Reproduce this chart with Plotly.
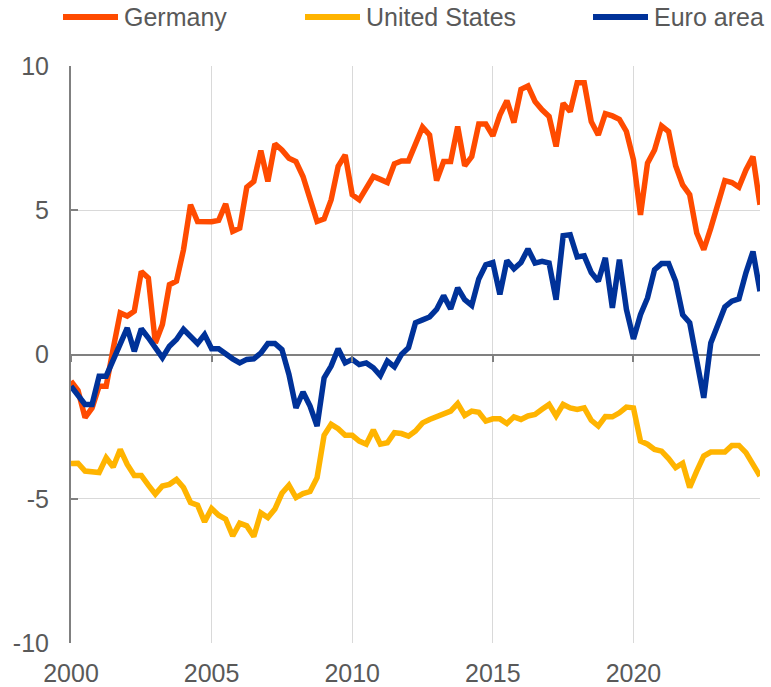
import plotly.graph_objects as go

# quarterly, 2000Q1 - 2024Q3
quarters = [2000 + i / 4 for i in range(99)]

germany = [
    -0.92, -1.25, -2.19, -1.85, -1.10, -1.10, 0.20, 1.44, 1.33, 1.50,
    2.88, 2.65, 0.40, 1.04, 2.42, 2.54, 3.63, 5.19, 4.61, 4.61,
    4.60, 4.65, 5.22, 4.27, 4.38, 5.80, 6.00, 7.07, 6.00, 7.30,
    7.09, 6.80, 6.69, 6.17, 5.36, 4.61, 4.70, 5.36, 6.52, 6.92,
    5.54, 5.36, 5.77, 6.17, 6.07, 5.96, 6.61, 6.71, 6.71, 7.27,
    7.88, 7.61, 6.03, 6.69, 6.69, 7.90, 6.54, 6.86, 7.99, 7.99,
    7.58, 8.30, 8.80, 8.04, 9.19, 9.31, 8.77, 8.48, 8.25, 7.21,
    8.71, 8.42, 9.42, 9.42, 8.07, 7.61, 8.35, 8.27, 8.15, 7.73,
    6.75, 4.84, 6.63, 7.09, 7.92, 7.73, 6.54, 5.88, 5.54, 4.21,
    3.63, 4.38, 5.19, 6.03, 5.96, 5.80, 6.40, 6.86, 5.19,
]

united_states = [
    -3.78, -3.77, -4.04, -4.07, -4.09, -3.58, -3.90, -3.29, -3.81, -4.19,
    -4.19, -4.53, -4.84, -4.56, -4.50, -4.33, -4.61, -5.13, -5.22, -5.80,
    -5.34, -5.57, -5.71, -6.29, -5.85, -5.94, -6.31, -5.49, -5.65, -5.36,
    -4.81, -4.53, -4.96, -4.82, -4.75, -4.27, -2.80, -2.42, -2.57, -2.80,
    -2.80, -3.00, -3.11, -2.62, -3.11, -3.06, -2.71, -2.74, -2.83, -2.65,
    -2.37, -2.25, -2.15, -2.08, -1.96, -1.70, -2.11, -1.96, -2.00, -2.31,
    -2.23, -2.23, -2.39, -2.16, -2.25, -2.13, -2.08, -1.90, -1.73, -2.13,
    -1.73, -1.85, -1.90, -1.85, -2.28, -2.48, -2.15, -2.16, -2.02, -1.82,
    -1.85, -3.00, -3.11, -3.29, -3.35, -3.61, -3.92, -3.77, -4.61, -4.04,
    -3.52, -3.38, -3.38, -3.38, -3.15, -3.15, -3.40, -3.81, -4.21,
]

euro_area = [
    -1.10, -1.44, -1.73, -1.73, -0.75, -0.75, -0.17, 0.29, 0.92, 0.11,
    0.89, 0.58, 0.23, -0.11, 0.29, 0.52, 0.87, 0.61, 0.38, 0.69,
    0.20, 0.20, 0.00, -0.15, -0.29, -0.17, -0.15, 0.05, 0.38, 0.38,
    0.17, -0.69, -1.85, -1.30, -1.79, -2.48, -0.81, -0.40, 0.20, -0.29,
    -0.17, -0.35, -0.29, -0.46, -0.73, -0.23, -0.43, 0.00, 0.23, 1.10,
    1.20, 1.30, 1.56, 2.04, 1.58, 2.31, 1.90, 1.70, 2.62, 3.11,
    3.19, 2.08, 3.26, 2.97, 3.19, 3.66, 3.17, 3.23, 3.17, 1.90,
    4.12, 4.15, 3.38, 3.42, 2.84, 2.54, 3.35, 1.62, 3.29, 1.56,
    0.54, 1.38, 1.96, 2.94, 3.15, 3.15, 2.54, 1.38, 1.10, -0.17,
    -1.50, 0.40, 0.98, 1.65, 1.85, 1.93, 2.83, 3.57, 2.19,
]

names = ['Germany', 'United States', 'Euro area']
colors = ['#FF4B00', '#FFB400', '#003299']
series = [germany, united_states, euro_area]

year_ticks = [2000, 2005, 2010, 2015, 2020]
y_ticks = [-10, -5, 0, 5, 10]
y_ticktext = ['-10', '-5', '0', '5', '10']

# body margin is removed in the page (post_script below), so the figure fills the window
W, H = 771, 687
L, R, T, B = 71, 11, 66, 44
FONT = 'Liberation Sans, Arial, sans-serif'
GREY_TEXT = '#595959'

fig = go.Figure()
for name, color, values in zip(names, colors, series):
    fig.add_trace(go.Scatter(x=quarters, y=values, name=name, mode='lines',
                             line=dict(color=color, width=5.5)))

# empty trace so the tick marks sitting on the zero line get drawn
fig.add_trace(go.Scatter(x=[quarters[0], quarters[-1]], y=[None, None], xaxis='x2',
                         mode='lines', showlegend=False, hoverinfo='skip'))

fig.update_layout(
    width=W, height=H,
    margin=dict(l=L, r=R, t=T, b=B),
    plot_bgcolor='white', paper_bgcolor='white',
    showlegend=False,
    font=dict(family=FONT, size=25, color=GREY_TEXT),
    xaxis=dict(range=[2000, quarters[-1]],
               tickvals=year_ticks + [quarters[-1]],
               ticktext=[str(y) for y in year_ticks] + [''],
               showgrid=True, gridcolor='#d9d9d9', gridwidth=1,
               zeroline=False, showline=False, ticks='',
               ticklabelstandoff=13, automargin=False),
    xaxis2=dict(range=[2000, quarters[-1]], overlaying='x', anchor='free',
                position=0.5, tickvals=year_ticks, showticklabels=False,
                ticks='outside', ticklen=6, tickwidth=2, tickcolor='#808080',
                showgrid=False, zeroline=False, showline=False, automargin=False),
    yaxis=dict(range=[-10, 10], tickvals=y_ticks, ticktext=y_ticktext,
               showgrid=True, gridcolor='#d9d9d9', gridwidth=1,
               zeroline=True, zerolinecolor='#808080', zerolinewidth=2,
               showline=True, linecolor='#808080', linewidth=2,
               ticks='inside', ticklen=7, tickwidth=2, tickcolor='#808080',
               ticklabelstandoff=15, automargin=False),
)

# legend drawn by hand so the entries sit where the reference has them
pw, ph = W - L - R, H - T - B
def px_x(px):
    return (px - L) / pw
def px_y(py):
    return (H - B - py) / ph

legend_x = [60, 302, 590]
for name, color, lx in zip(names, colors, legend_x):
    fig.add_shape(type='line', xref='paper', yref='paper',
                  x0=px_x(lx + 3), x1=px_x(lx + 58), y0=px_y(17), y1=px_y(17),
                  line=dict(color=color, width=6))
    fig.add_annotation(text=name, xref='paper', yref='paper',
                       x=px_x(lx + 62), y=px_y(17), xanchor='left', yanchor='middle',
                       showarrow=False, font=dict(family=FONT, size=25, color=GREY_TEXT))

fig.write_html('out.html', config={'displayModeBar': False},
               post_script="document.body.style.margin='0';")
